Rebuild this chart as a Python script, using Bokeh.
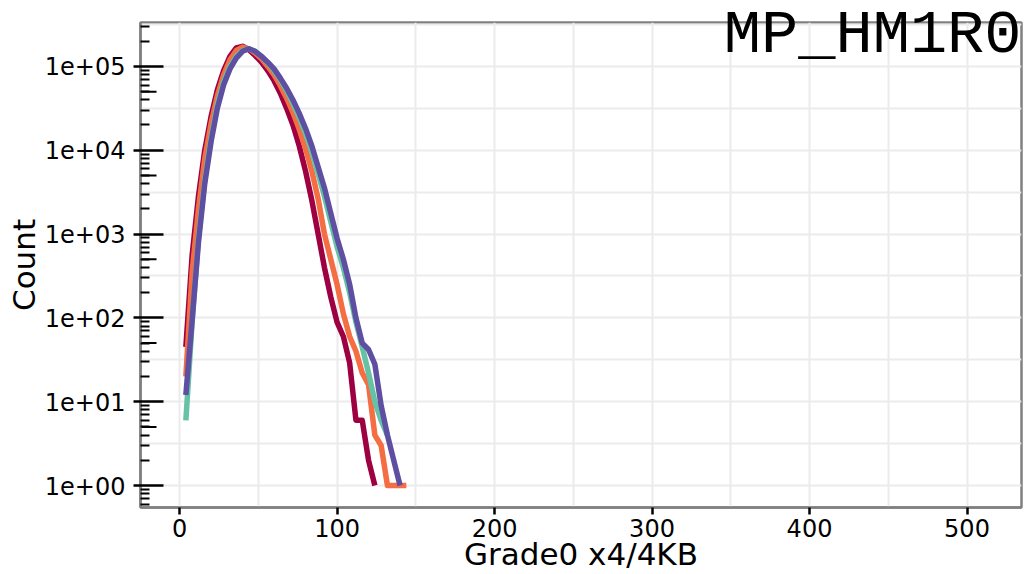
from bokeh.plotting import figure
from bokeh.models import FixedTicker, Range1d
from bokeh.embed import file_html
from bokeh.resources import INLINE

# Bin positions (Grade0 x4/4KB)
grade = [4, 8, 12, 16, 20, 24, 28, 32, 36, 40, 44, 48, 52, 56, 60, 64, 68, 72,
         76, 80, 84, 88, 92, 96, 100, 104, 108, 112, 116, 120, 124, 128, 132,
         136, 140, 144]

# Counts per series
counts_red = [45, 562, 2818, 10000, 25119, 52481, 89125, 131826, 165959, 173780,
              158489, 134896, 112202, 89125, 67608, 47863, 31623, 19953, 11220,
              5623, 2512, 1000, 398, 178, 89, 60, 29, 6, 6, 2, 1]
counts_orange = [20, 355, 1995, 7943, 20893, 44668, 79433, 120226, 154882, 169824,
                 162181, 144544, 123027, 100000, 79433, 58884, 41687, 28184, 17783,
                 10471, 5623, 2630, 1000, 501, 251, 112, 60, 40, 22, 16, 4, 3, 1,
                 1, 1, 1]
counts_teal = [6, 89, 891, 4467, 14125, 35481, 66069, 100000, 131826, 154882,
               162181, 151356, 131826, 109648, 89125, 69183, 51286, 36308, 24547,
               15849, 9550, 5248, 2818, 1413, 708, 398, 200, 89, 45, 22, 10, 6, 4]
counts_purple = [12, 95, 794, 3981, 12589, 31623, 60256, 93325, 125893, 151356,
                 162181, 151356, 131826, 112202, 93325, 72444, 54954, 39811, 27542,
                 18197, 11220, 6310, 3548, 1778, 891, 501, 251, 100, 50, 42, 28, 9,
                 4, 2, 1]

series_colors = ["#9E0142", "#F46D43", "#66C2A5", "#5E4FA2"]
x_ticks = [0, 100, 200, 300, 400, 500]
x_minor = [50, 150, 250, 350, 450, 550]
y_decades = [1, 10, 100, 1000, 10000, 100000]
y_labels = ["1e+00", "1e+01", "1e+02", "1e+03", "1e+04", "1e+05"]
title_text = "MP_HM1R0"

X0, X1 = -24.8, 534.6
Y0, Y1 = 0.547, 3.34e5
W, H = 1024, 574
BL, BR = 140, 3

p = figure(width=W, height=H, y_axis_type="log",
           x_range=Range1d(X0, X1), y_range=Range1d(Y0, Y1),
           output_backend="svg", toolbar_location=None,
           min_border_left=BL, min_border_right=BR, min_border_top=22,
           min_border_bottom=66, title=title_text)
p.background_fill_color = "white"
p.border_fill_color = "white"
p.outline_line_color = "#808080"
p.outline_line_width = 2.5

# title drawn over the top edge of the frame, at the right
p.title.align = "right"
p.title.text_font = "Liberation Mono"
p.title.text_font_size = "62px"
p.title.text_font_style = "normal"
p.title.text_color = "black"
p.title.offset = 0
p.title.standoff = -97

# grids
p.xgrid.ticker = FixedTicker(ticks=x_ticks, minor_ticks=x_minor)
p.ygrid.ticker = FixedTicker(ticks=y_decades,
                             minor_ticks=[d * 10 ** 0.5 for d in [0.1] + y_decades])
for g in (p.xgrid, p.ygrid):
    g.grid_line_color = "#ebebeb"
    g.grid_line_width = 2
    g.minor_grid_line_color = "#ebebeb"
    g.minor_grid_line_width = 2

# axes
minor_y = [m * d for d in [0.1] + y_decades for m in range(2, 10)]
p.yaxis.ticker = FixedTicker(ticks=y_decades, minor_ticks=minor_y)
p.yaxis.major_label_overrides = {d: l for d, l in zip(y_decades, y_labels)}
p.xaxis.ticker = FixedTicker(ticks=x_ticks, minor_ticks=[])
for ax in (p.xaxis, p.yaxis):
    ax.axis_line_color = "#808080"
    ax.axis_line_width = 2.5
    ax.major_tick_line_color = "black"
    ax.major_tick_line_width = 2.5
    ax.minor_tick_line_color = "black"
    ax.minor_tick_line_width = 2
    ax.major_label_text_font = "DejaVu Sans"
    ax.major_label_text_font_size = "24px"
    ax.major_label_text_color = "black"
    ax.axis_label_text_font = "DejaVu Sans"
    ax.axis_label_text_font_size = "31px"
    ax.axis_label_text_font_style = "normal"
    ax.axis_label_text_color = "black"
p.yaxis.major_tick_in = 23
p.yaxis.major_tick_out = 7
p.yaxis.minor_tick_in = 9
p.yaxis.minor_tick_out = 0
p.yaxis.major_label_standoff = 8
p.yaxis.axis_label_standoff = 0
p.xaxis.major_tick_in = 0
p.xaxis.major_tick_out = 7
p.xaxis.minor_tick_in = 0
p.xaxis.minor_tick_out = 0
p.xaxis.major_label_standoff = 4
p.xaxis.axis_label_standoff = -4
p.xaxis.axis_label = "Grade0 x4/4KB"
p.yaxis.axis_label = "Count"

# medium log ticks at 5 x 10^k (16px into the frame)
frame_w = W - BL - BR
fives = [5 * d for d in [0.1] + y_decades]
tick_len = 16 * (X1 - X0) / frame_w
p.segment(x0=[X0] * len(fives), y0=fives, x1=[X0 + tick_len] * len(fives), y1=fives,
          line_color="black", line_width=2)

for counts, color in zip([counts_red, counts_orange, counts_teal, counts_purple],
                         series_colors):
    p.line(grade[:len(counts)], counts, line_color=color, line_width=5.5,
           line_join="round")

open("out.html", "w").write(file_html(p, INLINE))
